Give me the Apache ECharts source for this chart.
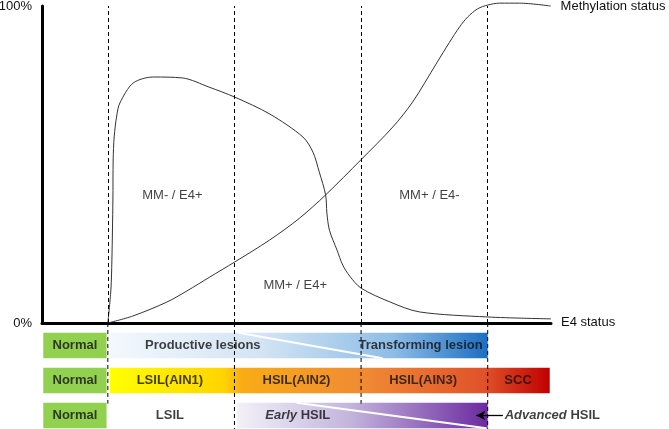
<!DOCTYPE html>
<html>
<head>
<meta charset="utf-8">
<script src="https://cdn.jsdelivr.net/npm/echarts@6/dist/echarts.min.js"></script>
<style>
  html, body { margin: 0; padding: 0; background: #fff; }
  #chart { width: 669px; height: 429px; }
</style>
</head>
<body>
<div id="chart"></div>
<script>
// x is measured in stages: 0, 1, 2, 3 are the dashed stage borders
const stageLines = [0, 1, 2, 3]
const stageLineEndRow = [1, 2, 1, 2]

// methylation status curve (y in %)
const methX = [0, 0.197, 0.466, 0.624, 0.805, 1.0, 1.279, 1.515, 1.72, 1.997, 2.25, 2.407, 2.597, 2.699, 2.778, 2.841, 2.92, 3.0, 3.094, 3.252, 3.497]
const methY = [0, 2.2, 6.6, 10.1, 14.5, 19.2, 26.2, 33.1, 40.4, 51.4, 61.8, 69.7, 82.0, 88.6, 93.4, 96.5, 99.1, 100.3, 100.9, 100.9, 100]

// E4 status curve (y in %)
const e4X = [0, 0.024, 0.032, 0.04, 0.042, 0.05, 0.071, 0.095, 0.2, 0.36, 0.59, 0.8, 1.0, 1.28, 1.54, 1.62, 1.67, 1.72, 1.73, 1.75, 1.81, 1.855, 1.91, 2.0, 2.23, 2.46, 3.0, 3.5]
const e4Y = [0, 10.4, 19.9, 38.8, 51.4, 58.7, 65.6, 69.4, 75.7, 77.6, 77.3, 74.4, 71.3, 65.9, 58.7, 53.9, 47.6, 40.4, 34.7, 29.3, 23.0, 18.3, 14.8, 11.0, 6.6, 3.5, 1.9, 1.3]

// region labels inside the plot
const regionText = ['MM- / E4+', 'MM+ / E4-', 'MM+ / E4+']
const regionX = [0.51, 2.54, 1.48]
const regionY = [40.4, 40.4, 12.0]

// bands under the chart
const bandRows = ['Lesion', 'Grade', 'HSIL']
const bandRow = [0, 0, 1, 1, 2, 2]
const bandFrom = [-0.51, 0.015, -0.51, 0.015, -0.51, 1.02]
const bandTo = [-0.01, 3.0, -0.01, 3.49, -0.01, 3.0]
const bandKind = ['normal', 'blue', 'normal', 'warm', 'normal', 'purple']

// white diagonal strokes in the bands
const diagRow = [0, 2]
const diagFrom = [1.03, 1.49]
const diagTo = [2.17, 2.99]

// band texts
const labelText = ['Normal', 'Productive lesions', 'Transforming lesion', 'Normal', 'LSIL(AIN1)', 'HSIL(AIN2)', 'HSIL(AIN3)', 'SCC', 'Normal', 'LSIL', 'HSIL', 'HSIL']
const labelItalic = ['', '', '', '', '', '', '', '', '', '', 'Early', 'Advanced']
const labelRow = [0, 0, 0, 1, 1, 1, 1, 1, 2, 2, 2, 2]
const labelX = [-0.26, 0.75, 2.47, -0.26, 0.49, 1.49, 2.49, 3.24, -0.26, 0.49, 1.5, 3.13]

const arrowFrom = 3.12
const arrowTo = 2.91

const FONT = 'Liberation Sans, Arial, sans-serif'
const TXT = '#111'

const grad = stops => new echarts.graphic.LinearGradient(0, 0, 1, 0,
  stops.map(s => ({ offset: s[0], color: s[1] })))

const fills = {
  normal: '#92d050',
  blue: grad([[0, '#f3f8fd'], [0.4, '#d3e4f4'], [0.75, '#8ebde6'], [1, '#1b6ec2']]),
  warm: grad([[0, '#ffff00'], [0.26, '#ffd400'], [0.3, '#f9ac16'], [0.58, '#f08a34'], [0.85, '#e0522a'], [1, '#c00000']]),
  purple: grad([[0, '#f2f1f8'], [0.45, '#c3b5dc'], [1, '#6b2aa0']])
}

const chart = echarts.init(document.getElementById('chart'))

chart.setOption({
  animation: false,
  backgroundColor: '#fff',
  grid: [
    { left: 42, right: 118, top: 6, height: 317, outerBoundsMode: 'none' },
    { left: 42, right: 118, top: 328, height: 105, outerBoundsMode: 'none' }
  ],
  xAxis: [
    {
      gridIndex: 0, type: 'value', min: -0.52, max: 3.5,
      axisLine: { show: true, onZero: false, lineStyle: { color: '#000', width: 3 } },
      axisTick: { show: false }, axisLabel: { show: false }, splitLine: { show: false }
    },
    { gridIndex: 1, type: 'value', min: -0.52, max: 3.5, show: false }
  ],
  yAxis: [
    {
      gridIndex: 0, type: 'value', min: 0, max: 100, interval: 100,
      axisLine: { show: true, onZero: false, lineStyle: { color: '#000', width: 3 } },
      axisTick: { show: false }, splitLine: { show: false },
      axisLabel: { formatter: '{value}%', color: TXT, fontSize: 13, fontFamily: FONT, margin: 10 }
    },
    { gridIndex: 1, type: 'category', data: bandRows, inverse: true, show: false }
  ],
  series: [
    {
      name: 'Methylation status',
      type: 'line',
      data: methX.map((x, i) => [x, methY[i]]),
      smooth: 0.3,
      symbol: 'none',
      clip: false,
      lineStyle: { color: '#333', width: 1 },
      endLabel: { show: true, formatter: 'Methylation status', color: TXT, fontSize: 13, fontFamily: FONT, distance: 10 },
      markLine: {
        silent: true,
        symbol: 'none',
        label: { show: false },
        lineStyle: { color: '#000', width: 1, type: [4, 3] },
        data: stageLines.map(x => ({ xAxis: x }))
      },
      z: 3
    },
    {
      name: 'E4 status',
      type: 'line',
      data: e4X.map((x, i) => [x, e4Y[i]]),
      smooth: 0.3,
      symbol: 'none',
      clip: false,
      lineStyle: { color: '#333', width: 1 },
      endLabel: { show: true, formatter: 'E4 status', color: TXT, fontSize: 13, fontFamily: FONT, distance: 10, offset: [0, 4] },
      z: 3
    },
    {
      type: 'scatter',
      data: regionText.map((t, i) => ({ name: t, value: [regionX[i], regionY[i]] })),
      symbolSize: 1,
      itemStyle: { color: 'transparent' },
      label: { show: true, position: 'inside', formatter: '{b}', color: TXT, fontSize: 13, fontFamily: FONT },
      silent: true
    },
    {
      type: 'custom',
      xAxisIndex: 1, yAxisIndex: 1,
      data: bandRow.map((r, i) => [r, bandFrom[i], bandTo[i]]),
      renderItem: (params, api) => {
        const row = api.value(0)
        const p0 = api.coord([api.value(1), row])
        const p1 = api.coord([api.value(2), row])
        const h = api.size([0, 1])[1] * 0.73
        return {
          type: 'rect',
          shape: { x: p0[0], y: p0[1] - h / 2, width: p1[0] - p0[0], height: h },
          style: { fill: fills[bandKind[params.dataIndex]] }
        }
      },
      z: 1,
      silent: true
    },
    {
      type: 'custom',
      xAxisIndex: 1, yAxisIndex: 1,
      data: diagRow.map((r, i) => [r, diagFrom[i], diagTo[i]]),
      renderItem: (params, api) => {
        const row = api.value(0)
        const p0 = api.coord([api.value(1), row])
        const p1 = api.coord([api.value(2), row])
        const h = api.size([0, 1])[1] * 0.73
        return {
          type: 'line',
          shape: { x1: p0[0], y1: p0[1] - h / 2, x2: p1[0], y2: p1[1] + h / 2 },
          style: { stroke: '#fff', lineWidth: 2 }
        }
      },
      z: 2,
      silent: true
    },
    {
      // dashed stage borders carried on through the bands
      type: 'custom',
      xAxisIndex: 1, yAxisIndex: 1,
      data: stageLines.map((x, i) => [x, stageLineEndRow[i]]),
      renderItem: (params, api) => {
        const slot = api.size([0, 1])[1]
        const top = api.coord([api.value(0), 0])[1] - slot / 2 - 5
        const bottom = api.coord([api.value(0), api.value(1)])[1] + slot * 0.66
        const x = api.coord([api.value(0), 0])[0]
        return {
          type: 'line',
          shape: { x1: x, y1: top, x2: x, y2: bottom },
          style: { stroke: '#000', lineWidth: 1, lineDash: [4, 3] }
        }
      },
      z: 3,
      silent: true
    },
    {
      type: 'scatter',
      xAxisIndex: 1, yAxisIndex: 1,
      data: labelText.map((t, i) => ({
        name: labelItalic[i] ? '{i|' + labelItalic[i] + '} ' + t : t,
        value: [labelX[i], labelRow[i]],
        label: labelItalic[i] === 'Advanced' ? { position: 'right', distance: 0 } : undefined
      })),
      symbolSize: 1,
      itemStyle: { color: 'transparent' },
      label: {
        show: true, position: 'inside', formatter: '{b}',
        color: TXT, fontSize: 13, fontWeight: 'bold', fontFamily: FONT,
        rich: { i: { fontStyle: 'italic', fontWeight: 'bold', fontSize: 13, fontFamily: FONT, color: TXT } }
      },
      markLine: {
        silent: true,
        symbol: ['none', 'arrow'],
        symbolSize: [7, 9],
        label: { show: false },
        lineStyle: { color: '#000', width: 1.3, type: 'solid' },
        data: [[{ coord: [arrowFrom, bandRows[2]] }, { coord: [arrowTo, bandRows[2]] }]]
      },
      z: 4,
      silent: true
    }
  ]
})
</script>
</body>
</html>
